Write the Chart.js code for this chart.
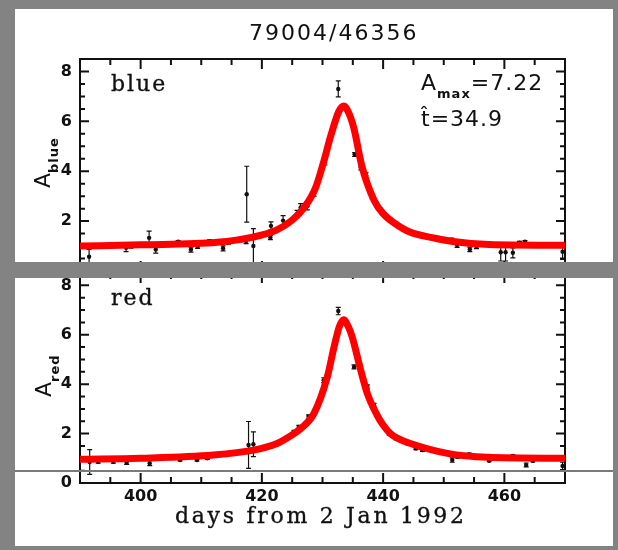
<!DOCTYPE html>
<html>
<head>
<meta charset="utf-8">
<script src="https://cdn.jsdelivr.net/npm/chart.js@4.4.1/dist/chart.umd.min.js"></script>
<style>
  html, body { margin: 0; padding: 0; }
  body { width: 618px; height: 550px; background: #838383; position: relative; overflow: hidden; }
  .pane { position: absolute; background: #fff; }
  #paneTop { left: 15px; top: 9px; width: 598px; height: 253px; }
  #paneBot { left: 15px; top: 278px; width: 598px; height: 268px; }
  canvas { position: absolute; }
  #cTop { left: 15px; top: 9px; }
  #cBot { left: 15px; top: 262px; }
  .band { position: absolute; background: #838383; z-index: 5; }
  .txt { position: absolute; white-space: nowrap; color: #111; line-height: 1; z-index: 6; }
  .sans { font-family: "DejaVu Sans", sans-serif; font-size: 22px; letter-spacing: 1px; }
  .serif { font-family: "DejaVu Serif", serif; font-size: 22px; letter-spacing: 2px; -webkit-text-stroke: 0.35px #111; }
  .sub { font-size: 13px; font-weight: bold; position: relative; top: 8px; letter-spacing: 1px; }
  .rot { transform-origin: 0 0; transform: rotate(-90deg); }
</style>
</head>
<body>
<div class="pane" id="paneTop"></div>
<div class="pane" id="paneBot"></div>
<canvas id="cTop" width="598" height="276"></canvas>
<canvas id="cBot" width="598" height="284"></canvas>

<div class="band" style="left:0;top:262px;width:618px;height:16px"></div>
<div class="band" style="left:15px;top:470px;width:598px;height:1.5px;background:#7a7a7a"></div>

<div class="txt sans" style="left:249px;top:22px;letter-spacing:2px">79004/46356</div>
<div class="txt serif" style="left:111px;top:73px">blue</div>
<div class="txt serif" style="left:111px;top:287px">red</div>
<div class="txt sans" style="left:421px;top:72px">A<span class="sub">max</span>=7.22</div>
<div class="txt sans" style="left:421px;top:108px">t&#770;=34.9</div>
<div class="txt sans rot" style="left:32px;top:188px;letter-spacing:0">A<span class="sub">blue</span></div>
<div class="txt sans rot" style="left:33px;top:397px;letter-spacing:0">A<span class="sub">red</span></div>
<div class="txt serif" style="left:175px;top:505px;letter-spacing:2.7px">days from 2 Jan 1992</div>

<script>
// blue band photometry: day, magnification, 1-sigma error
const blueDay = [391.5, 397.6, 398.4, 401.4, 402.5, 406.2, 408.3, 409.4, 411.4, 413.6, 414.5, 417.4, 417.5, 418.6,
  421.4, 421.5, 423.5, 425.8, 426.4, 427.5, 428.6, 430.4, 432.6, 435.3, 436.3, 437.2, 438.2, 441.2, 442.1,
  444.1, 444.8, 451.3, 452.2, 453.2, 454.3, 455.4, 459.4, 460.2, 461.4, 462.5, 463.4, 464.4, 466.0, 469.6];
const blueA = [0.57, 0.93, 1.02, 1.33, 0.86, 1.17, 0.86, 0.97, 1.19, 0.91, 1.15, 1.2, 3.08, 1.0,
  1.34, 1.81, 2.02, 2.28, 2.55, 2.6, 3.1, 4.35, 7.3, 4.67, 4.15, 3.84, 2.97, 2.04, 1.9,
  1.57, 1.52, 1.24, 1.04, 1.13, 0.87, 0.97, 0.75, 0.75, 0.73, 1.13, 1.17, 1.04, 1.04, 0.77];
const blueErr = [0.3, 0.15, 0.1, 0.27, 0.14, 0.05, 0.1, 0.06, 0.07, 0.1, 0.07, 0.1, 1.12, 0.7,
  0.08, 0.16, 0.2, 0.15, 0.15, 0.15, 0.1, 0.1, 0.32, 0.08, 0.1, 0.1, 0.08, 0.07, 0.06,
  0.06, 0.06, 0.08, 0.09, 0.07, 0.09, 0.07, 0.35, 0.35, 0.2, 0.06, 0.05, 0.05, 0.04, 0.3];

// red band photometry
const redDay = [391.6, 393.0, 395.5, 397.7, 401.5, 402.7, 406.5, 409.3, 411.0, 412.6, 414.2, 417.8, 418.6,
  421.4, 422.8, 425.3, 426.1, 427.7, 430.2, 432.6, 435.2, 437.4, 438.5, 441.0, 442.1, 444.0, 445.4,
  446.5, 451.4, 452.3, 453.4, 454.2, 455.6, 457.5, 461.4, 463.6, 464.7, 469.6];
const redA = [0.85, 0.86, 0.86, 0.82, 0.8, 1.0, 0.93, 0.93, 1.0, 1.16, 1.13, 1.54, 1.57,
  1.47, 1.6, 2.07, 2.27, 2.68, 4.16, 6.96, 4.7, 3.89, 3.15, 2.0, 1.8, 1.6, 1.4,
  1.33, 0.93, 1.06, 1.06, 1.16, 1.04, 0.9, 1.09, 0.73, 0.9, 0.69];
const redErr = [0.5, 0.06, 0.06, 0.07, 0.1, 0.07, 0.04, 0.04, 0.04, 0.05, 0.05, 0.95, 0.5,
  0.05, 0.05, 0.06, 0.06, 0.08, 0.1, 0.15, 0.08, 0.08, 0.07, 0.06, 0.05, 0.05, 0.05,
  0.05, 0.09, 0.05, 0.05, 0.05, 0.04, 0.04, 0.05, 0.08, 0.05, 0.15];

// fitted light curves
const fitBlueDay = [390, 400, 412.6, 418.5, 422.4, 425, 427, 428.8, 430.1, 431.4, 432.7, 433.5, 434.4,
  435.2, 436.5, 438.5, 440, 441.8, 444.5, 448.3, 451.5, 457.5, 470];
const fitBlueA = [1.0, 1.05, 1.15, 1.36, 1.64, 2.04, 2.55, 3.3, 4.3, 5.45, 6.4, 6.62, 6.3,
  5.7, 4.2, 2.84, 2.3, 1.93, 1.55, 1.33, 1.18, 1.06, 1.03];
const fitRedDay = [390, 400, 412, 418.6, 422.5, 425.3, 426.4, 428.6, 430.8, 431.9, 432.8, 433.5, 434.3,
  434.9, 436.3, 437.4, 439, 440, 441.2, 442.5, 444.5, 450.6, 457.2, 470];
const fitRedA = [0.96, 1.0, 1.13, 1.33, 1.6, 2.0, 2.2, 2.82, 4.3, 5.5, 6.35, 6.61, 6.3,
  5.91, 4.57, 3.62, 2.75, 2.35, 2.0, 1.8, 1.6, 1.2, 1.04, 1.0];

// axes
const xMin = 390, xMax = 470, yMin = 0, yMax = 8.5;
const xMajor = [400, 420, 440, 460];
const xMinor = [395, 405, 410, 415, 425, 430, 435, 445, 450, 455, 465];
const yMajor = [2, 4, 6, 8];
const yMinor = [0.5, 1, 1.5, 2.5, 3, 3.5, 4.5, 5, 5.5, 6.5, 7, 7.5];
const yLabelsTop = [2, 4, 6, 8];
const yLabelsBot = [0, 2, 4, 6, 8];

const pts = (xs, ys) => xs.map((v, i) => ({ x: v, y: ys[i] }));
const tickFont = { family: 'DejaVu Sans', weight: 'bold', size: 16 };

// box with inward ticks on all four sides, error bars under the points
const framePlugin = {
  id: 'frame',
  beforeDatasetsDraw(chart) {
    const { ctx, chartArea: a, scales: { x, y } } = chart;
    ctx.save();
    ctx.strokeStyle = '#111';
    ctx.lineWidth = 2;
    ctx.strokeRect(a.left, a.top, a.right - a.left, a.bottom - a.top);
    ctx.beginPath();
    const xt = (vals, len) => vals.forEach(v => {
      const px = x.getPixelForValue(v);
      ctx.moveTo(px, a.bottom); ctx.lineTo(px, a.bottom - len);
      ctx.moveTo(px, a.top); ctx.lineTo(px, a.top + len);
    });
    const yt = (vals, len) => vals.forEach(v => {
      const py = y.getPixelForValue(v);
      ctx.moveTo(a.left, py); ctx.lineTo(a.left + len, py);
      ctx.moveTo(a.right, py); ctx.lineTo(a.right - len, py);
    });
    xt(xMajor, 10); xt(xMinor, 6);
    yt(yMajor, 9); yt(yMinor, 5);
    ctx.stroke();

    ctx.beginPath();
    ctx.rect(a.left, a.top, a.right - a.left, a.bottom - a.top);
    ctx.clip();
    ctx.lineWidth = 1.2;
    chart.data.datasets.forEach(ds => {
      if (!ds.errs) return;
      ctx.beginPath();
      ds.data.forEach((p, i) => {
        const px = x.getPixelForValue(p.x);
        const t = y.getPixelForValue(p.y + ds.errs[i]);
        const b = y.getPixelForValue(p.y - ds.errs[i]);
        ctx.moveTo(px, t); ctx.lineTo(px, b);
        ctx.moveTo(px - 2.5, t); ctx.lineTo(px + 2.5, t);
        ctx.moveTo(px - 2.5, b); ctx.lineTo(px + 2.5, b);
      });
      ctx.stroke();
    });
    ctx.restore();
  }
};

function makeChart(id, day, a, err, fitDay, fitA, yLabels, showX, pad, xHeight) {
  return new Chart(document.getElementById(id), {
    type: 'scatter',
    data: {
      datasets: [
        {
          data: pts(fitDay, fitA), showLine: true, order: 0,
          borderColor: '#ff0000', borderWidth: 7, borderCapStyle: 'round', borderJoinStyle: 'round',
          cubicInterpolationMode: 'monotone', pointRadius: 0
        },
        {
          data: pts(day, a), errs: err, order: 1,
          pointRadius: 2.2, pointBackgroundColor: '#111', pointBorderWidth: 0
        }
      ]
    },
    options: {
      responsive: false,
      animation: false,
      layout: { padding: pad },
      plugins: { legend: { display: false }, tooltip: { enabled: false } },
      scales: {
        x: {
          type: 'linear', min: xMin, max: xMax, display: showX,
          grid: { display: false, drawTicks: false }, border: { display: false },
          afterBuildTicks: s => { s.ticks = xMajor.map(v => ({ value: v })); },
          afterFit: s => { s.height = xHeight; s.paddingLeft = 0; s.paddingRight = 0; },
          ticks: { autoSkip: false, maxRotation: 0, padding: 4, color: '#111', font: tickFont }
        },
        y: {
          type: 'linear', min: yMin, max: yMax,
          grid: { display: false, drawTicks: false }, border: { display: false },
          afterBuildTicks: s => { s.ticks = yLabels.map(v => ({ value: v })); },
          afterFit: s => { s.width = 30; s.paddingTop = 0; s.paddingBottom = 0; },
          ticks: { autoSkip: false, padding: 8, color: '#111', font: tickFont }
        }
      }
    },
    plugins: [framePlugin]
  });
}

makeChart('cTop', blueDay, blueA, blueErr, fitBlueDay, fitBlueA, yLabelsTop, false,
  { top: 50, left: 35, right: 48, bottom: 14 }, 0);
makeChart('cBot', redDay, redA, redErr, fitRedDay, fitRedA, yLabelsBot, true,
  { top: 11, left: 35, right: 48, bottom: 0 }, 63);
</script>
</body>
</html>
